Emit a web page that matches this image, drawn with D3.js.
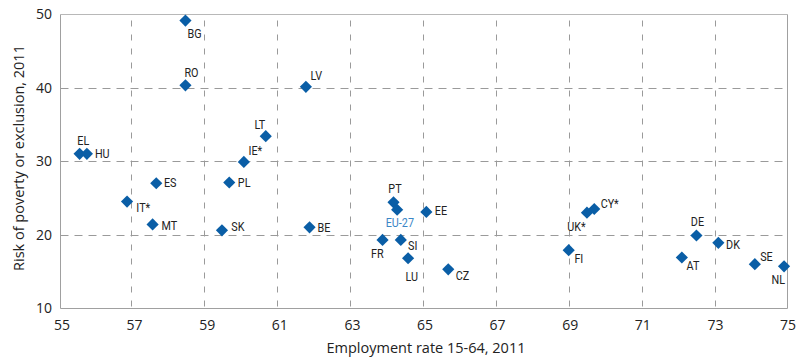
<!DOCTYPE html>
<html>
<head>
<meta charset="utf-8">
<script src="https://cdn.jsdelivr.net/npm/d3@7"></script>
<style>
  html, body { margin: 0; padding: 0; background: #fff; }
  svg { display: block; }
</style>
</head>
<body>
<svg id="chart" width="799" height="360"></svg>
<script>
// ---- data ----
const countries = ["BG","RO","LV","LT","IE*","EL","HU","ES","PL","IT*","MT","SK","BE","PT","EU-27","EE","FR","SI","LU","CZ","FI","UK*","CY*","DE","DK","AT","SE","NL"];
const employment = [58.5,58.5,61.8,60.7,60.1,55.6,55.8,57.7,59.7,56.9,57.6,59.5,61.9,64.2,64.3,65.1,63.9,64.4,64.6,65.7,69.0,69.5,69.7,72.5,73.1,72.1,74.1,74.9];
const risk = [49.1,40.3,40.1,33.4,29.9,31.0,31.0,27.0,27.1,24.5,21.4,20.6,21.0,24.4,23.4,23.1,19.3,19.3,16.8,15.3,17.9,23.0,23.5,19.9,18.9,16.9,16.0,15.7];
const xTicks = [55,57,59,61,63,65,67,69,71,73,75];
const yTicks = [10,20,30,40,50];
const xTitle = "Employment rate 15-64, 2011";
const yTitle = "Risk of poverty or exclusion, 2011";

// ---- label placement (dx, dy, anchor) ----
const labelPos = {
  "BG":[2,17,"start"], "RO":[-1,-8.5,"start"], "LV":[4.5,-7,"start"], "LT":[-0.5,-7,"end"],
  "IE*":[4.7,-7,"start"], "EL":[-2.3,-8.5,"start"], "HU":[8,4.5,"start"], "ES":[7.7,3.5,"start"],
  "PL":[8.6,4.5,"start"], "IT*":[9.3,10,"start"], "MT":[9,6,"start"], "SK":[9.4,1,"start"],
  "BE":[8,4.5,"start"], "PT":[1.5,-9,"middle"], "EU-27":[2.7,17.5,"middle"], "EE":[8.4,3,"start"],
  "FR":[1,18,"end"], "SI":[7.3,10,"start"], "LU":[-2.6,23,"start"], "CZ":[7.4,11,"start"],
  "FI":[5.7,12.5,"start"], "UK*":[-1.3,18,"end"], "CY*":[6.4,-1,"start"], "DE":[1,-9,"middle"],
  "DK":[7.7,6.5,"start"], "AT":[4.7,12,"start"], "SE":[5.3,-3.5,"start"], "NL":[1,17.5,"end"]
};

const data = countries.map((c,i) => ({c, x: employment[i], y: risk[i]}));

const svg = d3.select("#chart");
const x = d3.scaleLinear().domain([55,75]).range([57.7,787.7]);
const xLab = x.copy().range([62,788]);
const y = d3.scaleLinear().domain([10,50]).range([308.3,14]);

const frameL = 60.5, frameR = 787.5, frameT = 14.5, frameB = 308.5;

// gridlines
const g = svg.append("g");
g.selectAll("line.vg").data(xTicks.slice(1,-1)).join("line")
  .attr("x1", d => Math.round(x(d))+0.5).attr("x2", d => Math.round(x(d))+0.5)
  .attr("y1", frameT+6).attr("y2", frameB)
  .attr("stroke", "#9a9a9a").attr("stroke-width", 1).attr("stroke-dasharray", "6,8");
g.selectAll("line.hg").data(yTicks.slice(1,-1)).join("line")
  .attr("y1", d => Math.round(y(d))+0.5).attr("y2", d => Math.round(y(d))+0.5)
  .attr("x1", frameL).attr("x2", frameR)
  .attr("stroke", "#9a9a9a").attr("stroke-width", 1).attr("stroke-dasharray", "8,6");

// frame
svg.append("line").attr("x1", frameL).attr("x2", frameR).attr("y1", frameT).attr("y2", frameT).attr("stroke", "#b8b8b8");
svg.append("line").attr("x1", frameR).attr("x2", frameR).attr("y1", frameT).attr("y2", frameB).attr("stroke", "#a0a0a0");
svg.append("line").attr("x1", frameL).attr("x2", frameL).attr("y1", frameT).attr("y2", frameB).attr("stroke", "#a0a0a0");
svg.append("line").attr("x1", frameL).attr("x2", frameR).attr("y1", frameB).attr("y2", frameB).attr("stroke", "#a0a0a0");

// tick labels
const tickFont = "'Open Sans', 'DejaVu Sans', sans-serif";
svg.append("g").selectAll("text").data(xTicks).join("text")
  .attr("x", d => xLab(d)).attr("y", 330)
  .attr("text-anchor", "middle")
  .attr("font-family", tickFont).attr("font-size", 14).attr("fill", "#222")
  .text(d => d);
svg.append("g").selectAll("text").data(yTicks).join("text")
  .attr("x", 52).attr("y", d => y(d) + 5)
  .attr("text-anchor", "end")
  .attr("font-family", tickFont).attr("font-size", 14).attr("fill", "#222")
  .text(d => d);

// axis titles
svg.append("text").attr("x", 426).attr("y", 353)
  .attr("text-anchor", "middle").attr("font-family", tickFont).attr("font-size", 14.5).attr("fill", "#222")
  .text(xTitle);
svg.append("text").attr("transform", "translate(24,158) rotate(-90)")
  .attr("text-anchor", "middle").attr("font-family", tickFont).attr("font-size", 14.5).attr("fill", "#222")
  .text(yTitle);

// markers
const sym = d3.symbol().type(d3.symbolSquare).size(74);
svg.append("g").selectAll("path").data(data).join("path")
  .attr("d", sym)
  .attr("transform", d => `translate(${x(d.x)},${y(d.y)}) rotate(45)`)
  .attr("fill", "#0a5ea6");

// point labels (horizontally condensed)
svg.append("g").selectAll("text").data(data).join("text")
  .attr("transform", d => `translate(${x(d.x) + labelPos[d.c][0]},${y(d.y) + labelPos[d.c][1]}) scale(0.8,1)`)
  .attr("text-anchor", d => labelPos[d.c][2])
  .attr("font-family", "Roboto, 'Open Sans', sans-serif")
  .attr("font-size", 13.5)
  .attr("fill", d => d.c === "EU-27" ? "#3b86c6" : "#222")
  .text(d => d.c);
</script>
</body>
</html>
